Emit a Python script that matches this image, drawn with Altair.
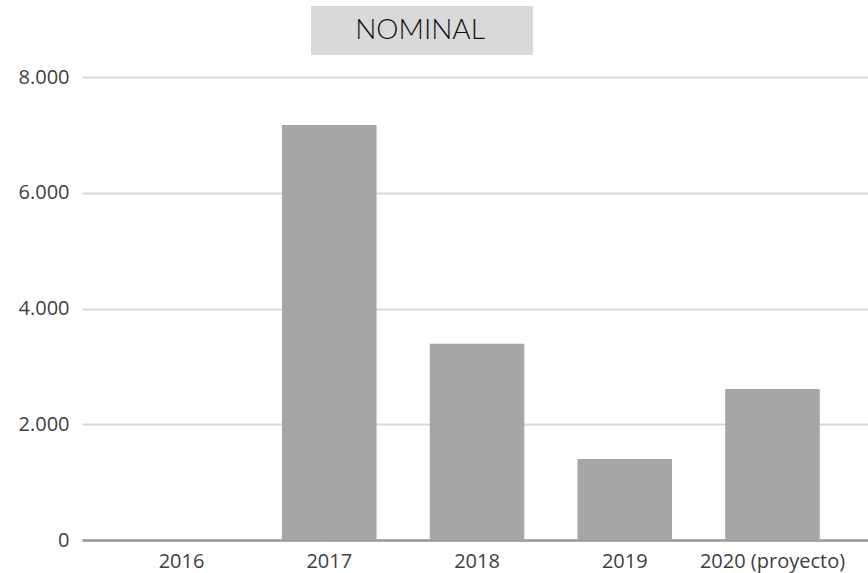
import altair as alt
import pandas as pd

years = ["2016", "2017", "2018", "2019", "2020 (proyecto)"]
values = [0, 7170, 3390, 1400, 2610]
title_text = ["NOMINAL"]

df = pd.DataFrame({"year": years, "value": values})

label_style = dict(labelFont="Open Sans", labelFontSize=20, labelColor="#404040")

bars = alt.Chart(df).mark_bar(color="#a6a6a6").encode(
    x=alt.X("year:N", sort=years, title=None,
            scale=alt.Scale(paddingInner=0.36, paddingOuter=0.34, align=0.52),
            axis=alt.Axis(labelAngle=0, ticks=False, domainColor="#9a9a9a", domainWidth=2.5,
                          labelPadding=11, **label_style)),
    y=alt.Y("value:Q", title=None,
            scale=alt.Scale(domain=[0, 8000], nice=False),
            axis=alt.Axis(values=[0, 2000, 4000, 6000, 8000], ticks=False, domain=False,
                          gridColor="#d9d9d9", gridWidth=2,
                          labelExpr="replace(format(datum.value, ',d'), ',', '.')",
                          labelPadding=13, **label_style)),
)

box = alt.Chart(pd.DataFrame({"t": title_text})).mark_rect(color="#d9d9d9", clip=False).encode(
    x=alt.value(229), x2=alt.value(451), y=alt.value(-71), y2=alt.value(-22)
)
txt = alt.Chart(pd.DataFrame({"t": title_text})).mark_text(
    font="Lato", fontSize=28, fontWeight=300, color="#111111", baseline="middle", align="center"
).encode(text="t:N", x=alt.value(338), y=alt.value(-46))

chart = alt.layer(box, bars, txt).properties(
    width=786, height=463,
    background="white",
    autosize=alt.AutoSizeParams(type="none"),
    padding={"left": 82, "top": 77, "right": 0, "bottom": 33},
).configure_view(stroke=None)

chart.save("out.html", embed_options={"renderer": "svg", "actions": False})
